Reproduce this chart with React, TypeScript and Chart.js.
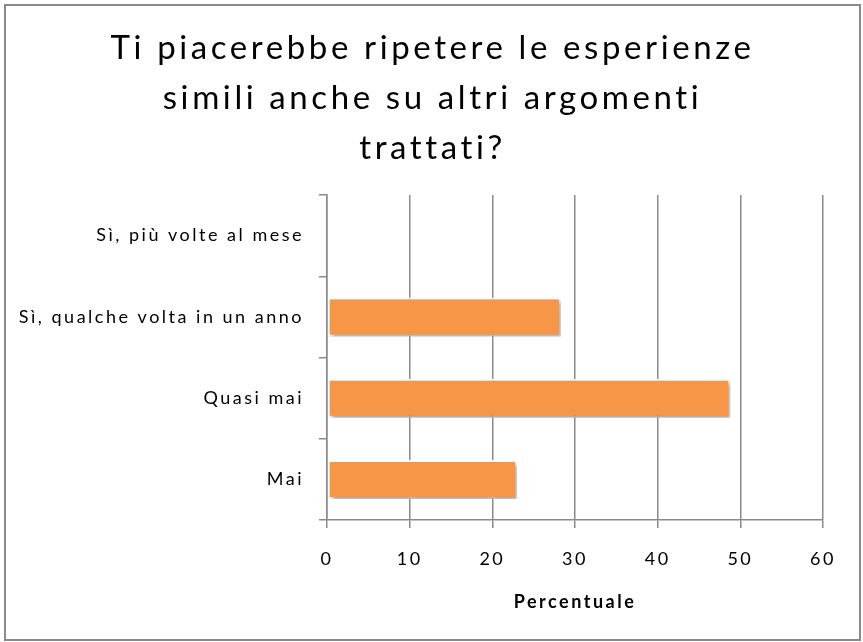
import React, { useEffect, useRef } from "react";
import { Chart, registerables } from "chart.js";

Chart.register(...registerables);

const titleLines = ["Ti piacerebbe ripetere le esperienze", "simili anche su altri argomenti", "trattati?"];
const categories = ["Sì, più volte al mese", "Sì, qualche volta in un anno", "Quasi mai", "Mai"];
const values = [0, 28.3, 48.8, 23.0];
const xAxisTitle = "Percentuale";
const xMin = 0;
const xMax = 60;
const xStep = 10;

const W = 863;
const H = 642;

const shadowPlugin = {
  id: "barShadow",
  beforeDatasetsDraw(chart: any) {
    const ctx = chart.ctx;
    ctx.save();
    ctx.shadowColor = "rgba(0,0,0,0.35)";
    ctx.shadowOffsetX = 2;
    ctx.shadowOffsetY = 3;
    ctx.shadowBlur = 4;
  },
  afterDatasetsDraw(chart: any) {
    chart.ctx.restore();
  },
};

// Sets the letter spacing used by the axis texts, and draws the spaced chart title.
const spacingTitlePlugin = {
  id: "spacedTitle",
  beforeDraw(chart: any) {
    (chart.ctx as any).letterSpacing = "2.5px";
  },
  afterDraw(chart: any) {
    const ctx = chart.ctx as any;
    ctx.save();
    ctx.letterSpacing = "3.6px";
    ctx.font = "normal 33px Lato";
    ctx.fillStyle = "#000000";
    ctx.textAlign = "center";
    ctx.textBaseline = "middle";
    const cx = chart.width / 2 + 1;
    titleLines.forEach((line, i) => {
      ctx.fillText(line, cx, 48 + i * 50);
    });
    ctx.restore();
    ctx.letterSpacing = "0px";
  },
};

export default function App() {
  const ref = useRef<HTMLCanvasElement>(null);
  useEffect(() => {
    document.body.style.margin = "0";
    const chart = new Chart(ref.current!, {
      type: "bar",
      data: {
        labels: categories,
        datasets: [
          {
            data: values,
            backgroundColor: "#F79646",
            borderColor: "#ffffff",
            borderWidth: 2,
            borderSkipped: false,
            barPercentage: 0.96,
            categoryPercentage: 0.5,
          },
        ],
      },
      options: {
        indexAxis: "y",
        animation: false,
        responsive: false,
        maintainAspectRatio: false,
        layout: { padding: { left: 0, right: 40, top: 195, bottom: 0 } },
        plugins: {
          legend: { display: false },
          tooltip: { enabled: false },
          title: { display: false },
        },
        scales: {
          x: {
            min: xMin,
            max: xMax,
            afterFit: (s: any) => {
              s.height = 122;
            },
            ticks: {
              stepSize: xStep,
              color: "#000000",
              padding: 20,
              font: { family: "Lato", size: 18 },
            },
            grid: {
              color: "#8a8a8a",
              lineWidth: 1.5,
              tickLength: 8,
              drawTicks: true,
            },
            border: { color: "#8a8a8a", width: 1.5 },
            title: {
              display: true,
              text: xAxisTitle,
              color: "#000000",
              font: { family: "Lato", size: 18, weight: "bold" },
              padding: { top: 0, bottom: 29 },
            },
          },
          y: {
            afterFit: (s: any) => {
              s.width = 327;
            },
            ticks: {
              color: "#000000",
              padding: 15,
              font: { family: "Lato", size: 18 },
            },
            grid: {
              drawOnChartArea: false,
              color: "#8a8a8a",
              lineWidth: 1.5,
              tickLength: 8,
              offset: true,
            },
            border: { color: "#8a8a8a", width: 1.5 },
          },
        },
      },
      plugins: [shadowPlugin, spacingTitlePlugin],
    });
    return () => chart.destroy();
  }, []);
  return (
    <div style={{ position: "relative", width: W, height: H, background: "#fff" }}>
      <canvas ref={ref} width={W} height={H} style={{ position: "absolute", left: 0, top: 0 }} />
      <div
        style={{
          position: "absolute",
          left: 4,
          top: 4,
          width: W - 10,
          height: H - 9,
          border: "2px solid #8a8a8a",
          pointerEvents: "none",
        }}
      />
    </div>
  );
}
